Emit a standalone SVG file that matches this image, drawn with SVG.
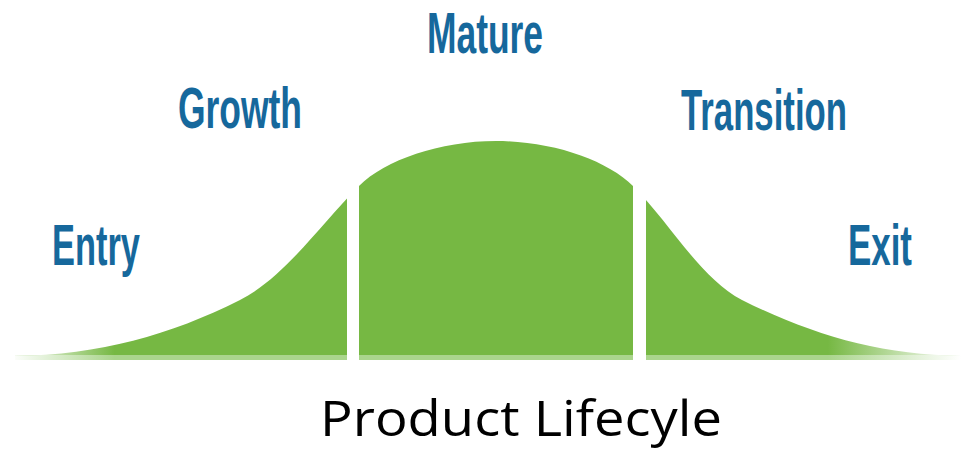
<svg xmlns="http://www.w3.org/2000/svg" width="961" height="462" viewBox="0 0 961 462">
  <defs>
    <linearGradient id="gDark" gradientUnits="userSpaceOnUse" x1="10" y1="0" x2="961" y2="0">
      <stop offset="0" stop-color="#76b843" stop-opacity="0"/>
      <stop offset="0.11" stop-color="#76b843" stop-opacity="1"/>
      <stop offset="0.86" stop-color="#76b843" stop-opacity="1"/>
      <stop offset="1" stop-color="#76b843" stop-opacity="0"/>
    </linearGradient>
    <linearGradient id="gLight" gradientUnits="userSpaceOnUse" x1="10" y1="0" x2="961" y2="0">
      <stop offset="0" stop-color="#aad58c" stop-opacity="0"/>
      <stop offset="0.11" stop-color="#aad58c" stop-opacity="1"/>
      <stop offset="0.86" stop-color="#aad58c" stop-opacity="1"/>
      <stop offset="1" stop-color="#aad58c" stop-opacity="0"/>
    </linearGradient>
  </defs>
  <style>
    .stage { font-family: "Liberation Sans", Arial, sans-serif; font-size: 57px; font-weight: bold; fill: #16689c; }
    .title { font-family: "Open Sans", "Liberation Sans", sans-serif; font-size: 49px; fill: #000000; }
    .gap { fill: #ffffff; }
  </style>
  <rect width="961" height="462" fill="#ffffff"/>
  <g id="curve">
    <path d="M15,355 L15,356 C100,355 170,335 240,300 C285,277 320,225 359,186 C385,160 440,141 496,141 C552,141 607,160 633,186 C670,223 700,278 742,300 C812,335 880,355 961,356 L961,355 Z" fill="url(#gDark)"/>
    <rect x="15" y="355" width="946" height="5" fill="url(#gLight)"/>
    <rect class="gap" x="347" y="130" width="12" height="235"/>
    <rect class="gap" x="633" y="130" width="13" height="235"/>
  </g>
  <g id="entry"><text class="stage" x="52" y="265" textLength="88" lengthAdjust="spacingAndGlyphs">Entry</text></g>
  <g id="growth"><text class="stage" x="178" y="128" textLength="124" lengthAdjust="spacingAndGlyphs">Growth</text></g>
  <g id="mature"><text class="stage" x="427" y="53" textLength="116" lengthAdjust="spacingAndGlyphs">Mature</text></g>
  <g id="transition"><text class="stage" x="681" y="130" textLength="166" lengthAdjust="spacingAndGlyphs">Transition</text></g>
  <g id="exit"><text class="stage" x="848" y="265" textLength="64" lengthAdjust="spacingAndGlyphs">Exit</text></g>
  <g id="title"><text class="title" x="320" y="436" textLength="402" lengthAdjust="spacingAndGlyphs">Product Lifecyle</text></g>
</svg>
